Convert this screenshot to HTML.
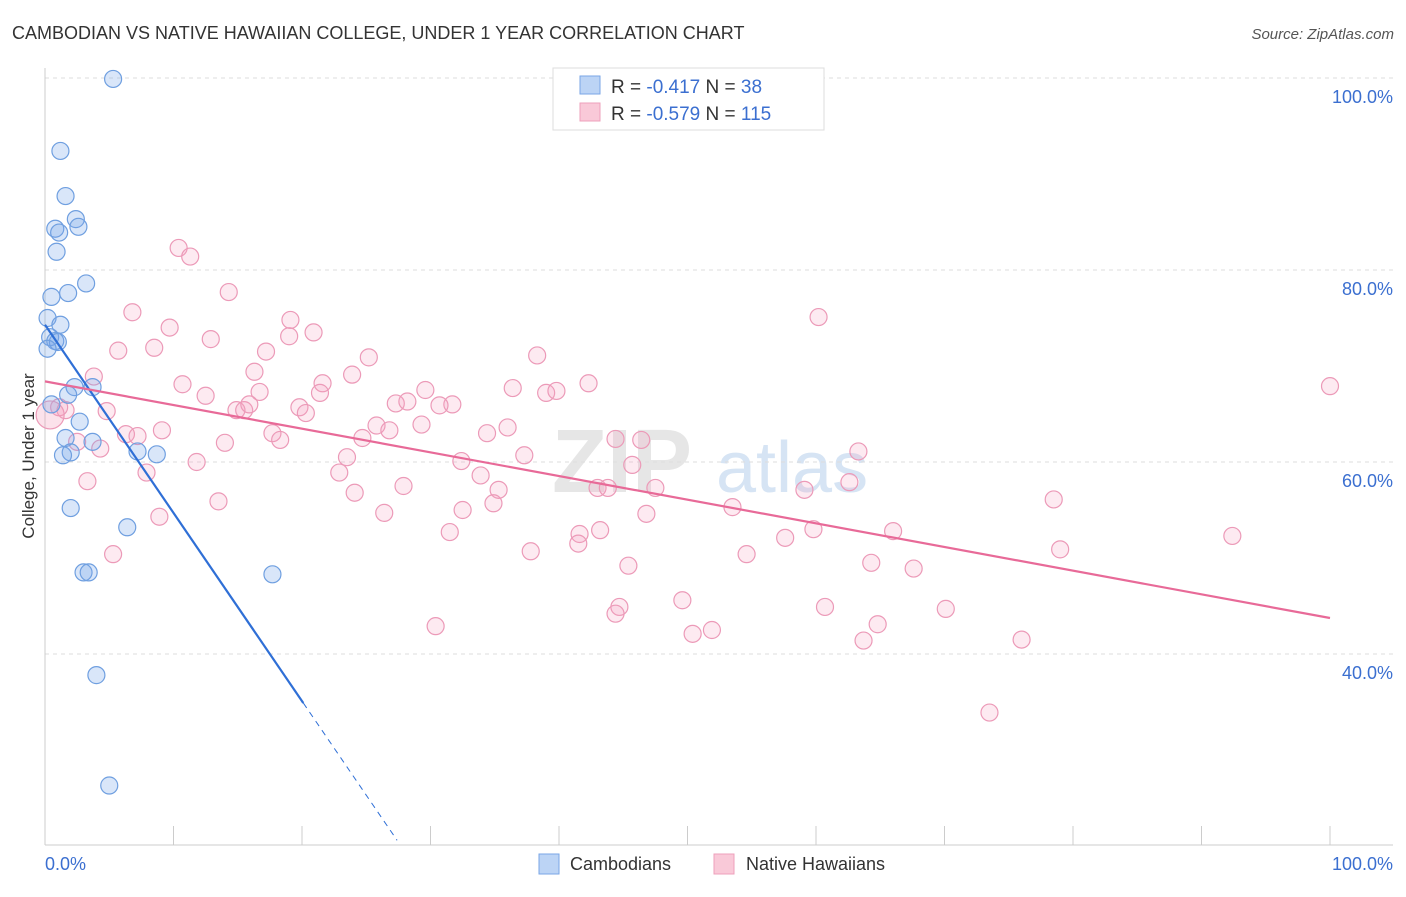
<!DOCTYPE html>
<html><head><meta charset="utf-8"><style>
body{margin:0;background:#fff;font-family:"Liberation Sans",sans-serif;}
svg text{font-family:"Liberation Sans",sans-serif;}
</style></head><body>
<svg id="chart" width="1406" height="892" viewBox="0 0 1406 892" xmlns="http://www.w3.org/2000/svg">
<text x="12" y="39" font-size="18" fill="#333">CAMBODIAN VS NATIVE HAWAIIAN COLLEGE, UNDER 1 YEAR CORRELATION CHART</text>
<text x="1394" y="39" font-size="15" fill="#555" text-anchor="end" font-style="italic">Source: ZipAtlas.com</text>
<g>
<text x="552" y="492" font-size="90" fill="#e6e6e6" font-family="Liberation Serif" font-weight="bold">ZIP</text>
<text x="716" y="492" font-size="72" fill="#d6e4f4">atlas</text>
</g>
<g id="grid"></g>
<g id="axes"></g>
<g id="pink"></g>
<g id="blue"></g>
<g id="lines"></g>
<text transform="translate(34,456) rotate(-90)" font-size="17" fill="#333" text-anchor="middle">College, Under 1 year</text>
<g>
<rect x="553" y="68" width="271" height="62" fill="#fff" stroke="#ddd"/>
<rect x="580" y="76" width="20" height="18" fill="#bcd4f5" stroke="#7aa6e6"/>
<rect x="580" y="103" width="20" height="18" fill="#f9c9d8" stroke="#eea0bb"/>
<text x="611" y="93" font-size="19" fill="#333">R = <tspan fill="#3b6fd0">-0.417</tspan>   N =  <tspan fill="#3b6fd0">38</tspan></text>
<text x="611" y="120" font-size="19" fill="#333">R = <tspan fill="#3b6fd0">-0.579</tspan>   N = <tspan fill="#3b6fd0">115</tspan></text>
</g>
<g>
<rect x="539" y="854" width="20" height="20" fill="#bcd4f5" stroke="#7aa6e6"/>
<text x="570" y="870" font-size="18" fill="#333">Cambodians</text>
<rect x="714" y="854" width="20" height="20" fill="#f9c9d8" stroke="#eea0bb"/>
<text x="746" y="870" font-size="18" fill="#333">Native Hawaiians</text>
</g>
</svg>
<script>
const yTicks=[100,80,60,40];
const yTickLabels=["100.0%","80.0%","60.0%","40.0%"];
const xTickVals=[0,10,20,30,40,50,60,70,80,90,100];
const xEndLabels=["0.0%","100.0%"];
const blueX=[5.3,1.2,1.6,2.4,2.6,0.8,1.1,0.9,3.2,1.8,0.5,0.2,1.2,0.4,0.8,1.0,0.2,3.7,2.3,1.8,0.5,2.7,1.6,3.7,2.0,1.4,7.2,8.7,2.0,6.4,3.0,3.4,17.7,4.0,5.0];
const blueY=[99.9,92.4,87.7,85.3,84.5,84.3,83.9,81.9,78.6,77.6,77.2,75.0,74.3,73.0,72.6,72.5,71.8,67.8,67.8,67.0,66.0,64.2,62.5,62.1,61.0,60.7,61.1,60.8,55.2,53.2,48.5,48.5,48.3,37.8,26.3];
const pinkX=[10.4,11.3,14.3,6.8,19.1,20.9,9.7,19.0,12.9,8.5,5.7,17.2,25.2,38.3,60.2,3.8,10.7,16.3,23.9,21.6,21.4,16.7,12.5,29.6,27.3,28.2,31.7,30.7,19.8,20.3,14.9,15.5,4.8,1.6,1.1,15.9,36.4,39.0,39.8,42.3,100,25.8,24.7,29.3,26.8,6.3,7.2,9.1,17.7,18.3,14.0,4.3,34.4,36.0,44.4,46.4,63.3,23.5,37.3,32.4,11.8,45.7,22.9,33.9,7.9,3.3,27.9,47.5,43.0,43.8,35.3,24.1,62.6,59.1,13.5,34.9,26.4,32.5,8.9,46.8,53.5,78.5,31.5,59.8,66.0,41.6,43.2,41.5,57.6,37.8,54.6,79.0,92.4,5.3,45.4,64.3,67.6,49.6,44.7,44.4,60.7,70.1,30.4,50.4,51.9,64.8,63.7,76.0,73.5,2.5];
const pinkY=[82.3,81.4,77.7,75.6,74.8,73.5,74.0,73.1,72.8,71.9,71.6,71.5,70.9,71.1,75.1,68.9,68.1,69.4,69.1,68.2,67.2,67.3,66.9,67.5,66.1,66.3,66.0,65.9,65.7,65.1,65.4,65.4,65.3,65.4,65.7,66.0,67.7,67.2,67.4,68.2,67.9,63.8,62.5,63.9,63.3,62.9,62.7,63.3,63.0,62.3,62.0,61.4,63.0,63.6,62.4,62.3,61.1,60.5,60.7,60.1,60.0,59.7,58.9,58.6,58.9,58.0,57.5,57.3,57.3,57.3,57.1,56.8,57.9,57.1,55.9,55.7,54.7,55.0,54.3,54.6,55.3,56.1,52.7,53.0,52.8,52.5,52.9,51.5,52.1,50.7,50.4,50.9,52.3,50.4,49.2,49.5,48.9,45.6,44.9,44.2,44.9,44.7,42.9,42.1,42.5,43.1,41.4,41.5,33.9,62.1];
const bigPink=[0.4,64.9];
const blueTrend=[0,74.3,20.1,34.9,27.4];
const pinkTrend=[0,68.4,100,43.75];
const NS="http://www.w3.org/2000/svg";
const X=v=>45+v*12.85, Y=v=>78+(100-v)*9.6;
function mk(p,t,a){const e=document.createElementNS(NS,t);for(const k in a)e.setAttribute(k,a[k]);p.appendChild(e);return e;}
const grid=document.getElementById('grid'),axes=document.getElementById('axes');
yTicks.forEach((v,i)=>{
 const l=mk(grid,'line',{x1:45,x2:1393,y1:Y(v),y2:Y(v),stroke:'#ddd','stroke-dasharray':'4,4'});
 
 const t=mk(axes,'text',{x:1393,y:Y(v)+25,'font-size':18,fill:'#3b6fd0','text-anchor':'end'});t.textContent=yTickLabels[i];
 
});
mk(axes,'line',{x1:45,x2:45,y1:68,y2:845,stroke:'#ccc'});
mk(axes,'line',{x1:45,x2:1393,y1:845,y2:845,stroke:'#ccc'});
xTickVals.forEach(v=>{const t=mk(axes,'line',{x1:X(v),x2:X(v),y1:826,y2:845,stroke:'#ccc'});
 });
let t1=mk(axes,'text',{x:45,y:870,'font-size':18,fill:'#3b6fd0'});t1.textContent=xEndLabels[0];

let t2=mk(axes,'text',{x:1393,y:870,'font-size':18,fill:'#3b6fd0','text-anchor':'end'});t2.textContent=xEndLabels[1];

const pg=document.getElementById('pink'),bg=document.getElementById('blue'),lg=document.getElementById('lines');
pinkX.forEach((x,i)=>{const c=mk(pg,'circle',{cx:X(x),cy:Y(pinkY[i]),r:8.5,fill:'rgba(244,160,190,0.22)',stroke:'#ec9ab8','stroke-width':1.2});
 });
const bp=mk(pg,'circle',{cx:X(bigPink[0]),cy:Y(bigPink[1]),r:14,fill:'rgba(244,160,190,0.3)',stroke:'#ec9ab8','stroke-width':1.2});

blueX.forEach((x,i)=>{const c=mk(bg,'circle',{cx:X(x),cy:Y(blueY[i]),r:8.5,fill:'rgba(120,165,235,0.28)',stroke:'#6f9fe0','stroke-width':1.2});
 });
const bs=(blueTrend[3]-blueTrend[1])/(blueTrend[2]-blueTrend[0]);
const l1=mk(lg,'line',{x1:X(blueTrend[0]),y1:Y(blueTrend[1]),x2:X(blueTrend[2]),y2:Y(blueTrend[3]),stroke:'#2f6fd6','stroke-width':2.2});

const l2=mk(lg,'line',{x1:X(blueTrend[2]),y1:Y(blueTrend[3]),x2:X(blueTrend[4]),y2:Y(blueTrend[1]+bs*blueTrend[4]),stroke:'#2f6fd6','stroke-width':1,'stroke-dasharray':'6,5'});

const l3=mk(lg,'line',{x1:X(pinkTrend[0]),y1:Y(pinkTrend[1]),x2:X(pinkTrend[2]),y2:Y(pinkTrend[3]),stroke:'#e86a98','stroke-width':2.2});

</script>
</body></html>
